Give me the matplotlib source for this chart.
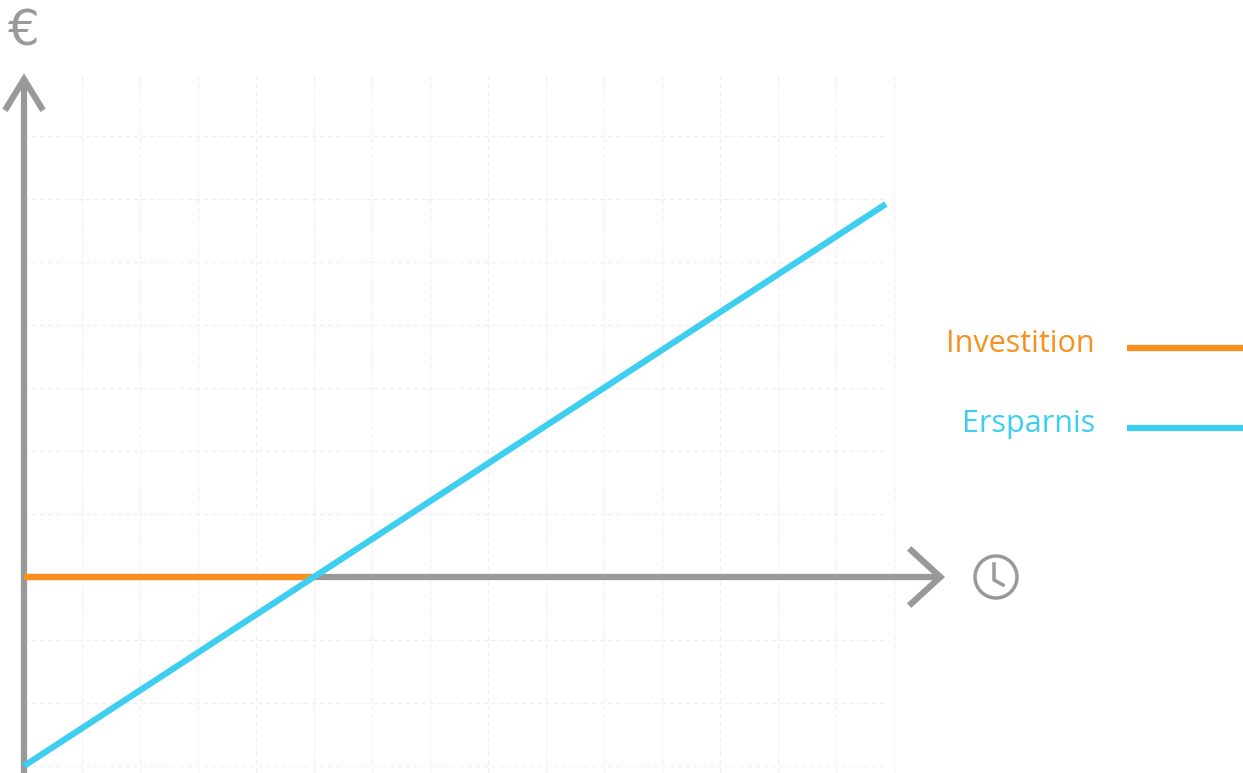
import matplotlib
matplotlib.use("Agg")
import matplotlib.pyplot as plt
from matplotlib.patches import Circle

# data (x in time units, y in euro units)
ersparnis_x = [0, 14.86]
ersparnis_y = [-3, 5.92]
invest_x = [0, 5]
invest_y = [0, 0]
labels = ["Investition", "Ersparnis"]

GRAY = "#999999"; ORANGE = "#F7901E"; BLUE = "#3ECEF0"
fig = plt.figure(figsize=(12.43, 7.73), dpi=100)
ax = fig.add_axes([0, 0, 1, 1])
ax.set_xlim(-24/58, (1243-24)/58)
ax.set_ylim((577-773)/63, 577/63)
ax.axis("off")

for gx in range(0, 16):
    ax.plot([gx, gx], [-3.1, 7.97], color="#eeeeee", lw=0.8, ls=(0, (4, 3)), zorder=0)
for gy in range(-3, 8):
    ax.plot([0, 14.86], [gy, gy], color="#eeeeee", lw=0.8, ls=(0, (4, 3)), zorder=0)

# axes
ax.plot([0, 0], [-3.2, 7.9], color=GRAY, lw=4.5, solid_capstyle="butt", zorder=2)
ax.plot([-0.3, 0, 0.3], [7.45, 7.9, 7.45], color=GRAY, lw=4.5, solid_joinstyle="miter", zorder=2)
ax.plot([0, 15.8], [0, 0], color=GRAY, lw=4.5, solid_capstyle="butt", zorder=2)
ax.plot([15.3, 15.8, 15.3], [0.42, 0, -0.42], color=GRAY, lw=4.5, solid_joinstyle="miter", zorder=2)

ax.plot(invest_x, invest_y, color=ORANGE, lw=4.5, zorder=3, solid_capstyle="butt")
ax.plot(ersparnis_x, ersparnis_y, color=BLUE, lw=4.5, zorder=4, solid_capstyle="butt")

# clock icon
cx, cy = (996-24)/58, 0
fig_ax = fig.add_axes([0, 0, 1, 1]); fig_ax.set_xlim(0, 1243); fig_ax.set_ylim(773, 0); fig_ax.axis("off")
fig_ax.add_patch(Circle((996, 577), 21, fill=False, ec=GRAY, lw=2.5))
fig_ax.plot([994, 994, 1003], [564, 580, 585], color=GRAY, lw=2.5)
fig_ax.text(24, 32, "€", color=GRAY, fontsize=36, ha="center", va="center", family="DejaVu Sans")

# legend
for lab, col, y in zip(labels, [ORANGE, BLUE], [346, 426]):
    fig_ax.text(1095, y - 2, lab, color=col, fontsize=22, ha="right", va="center", family="Open Sans")
    fig_ax.plot([1127, 1243], [y + 2, y + 2], color=col, lw=4.5, solid_capstyle="butt")

fig.savefig("out.png", dpi=100)
